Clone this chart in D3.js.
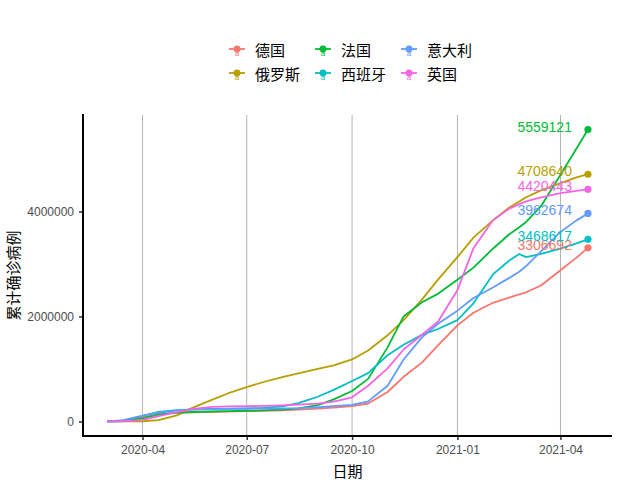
<!DOCTYPE html>
<html>
<head>
<meta charset="utf-8">
<script src="https://cdn.jsdelivr.net/npm/d3@7"></script>
<style>
  html, body { margin: 0; padding: 0; background: #fff; }
  svg { display: block; }
</style>
</head>
<body>
<svg id="chart" width="640" height="480"></svg>
<script>
// ---- data ----
const dates = ["2020-03-01","2020-03-15","2020-04-01","2020-04-15","2020-05-01","2020-05-15","2020-06-01","2020-06-15",
  "2020-07-01","2020-07-15","2020-08-01","2020-08-15","2020-09-01","2020-09-15","2020-10-01","2020-10-15",
  "2020-11-01","2020-11-15","2020-12-01","2020-12-15","2021-01-01","2021-01-15","2021-02-01","2021-02-15",
  "2021-02-24","2021-03-02","2021-03-15","2021-04-01","2021-04-15","2021-04-25"];
const countries = ["德国","俄罗斯","法国","西班牙","意大利","英国"];
const colors = ["#F8766D","#B79F00","#00BA38","#00BFC4","#619CFF","#F564E3"];
const germany = [130,5800,77000,134000,163000,174000,183000,187000,195000,200000,210000,225000,245000,265000,292000,341000,
  560000,850000,1120000,1450000,1830000,2070000,2260000,2360000,2420000,2460000,2590000,2880000,3120000,3306692];
const russia = [0,63,2800,24500,114000,262000,415000,537000,654000,746000,845000,917000,1000000,1069000,1180000,1350000,
  1640000,1930000,2320000,2700000,3130000,3500000,3830000,4070000,4190000,4270000,4400000,4540000,4650000,4708640];
const france = [130,4500,57000,135000,168000,179000,189000,194000,203000,210000,225000,250000,310000,420000,580000,810000,
  1410000,2000000,2270000,2430000,2700000,2930000,3290000,3560000,3700000,3800000,4100000,4700000,5200000,5559121];
const spain = [84,7800,104000,180000,215000,230000,240000,244000,250000,258000,288000,350000,470000,600000,770000,920000,
  1260000,1460000,1650000,1760000,1930000,2250000,2800000,3060000,3190000,3130000,3190000,3290000,3390000,3468617];
const italy = [1700,25000,110000,165000,207000,224000,233000,237000,241000,244000,248000,253000,270000,290000,314000,381000,
  680000,1180000,1600000,1860000,2110000,2350000,2550000,2730000,2850000,2960000,3240000,3610000,3830000,3962674];
const uk = [36,1400,30000,99000,178000,237000,277000,285000,290000,296000,305000,318000,340000,375000,460000,680000,
  1010000,1370000,1650000,1900000,2500000,3300000,3830000,4050000,4140000,4190000,4270000,4350000,4390000,4420443];
const seriesValues = [germany, russia, france, spain, italy, uk];
const xTicks = ["2020-04-01","2020-07-01","2020-10-01","2021-01-01","2021-04-01"];
const yTicks = [0, 2000000, 4000000];
const xTitle = "日期";
const yTitle = "累计确诊病例";

// ---- setup ----
const parse = d3.timeParse("%Y-%m-%d");
const fmtX = d3.timeFormat("%Y-%m");
const svg = d3.select("#chart");
const cjk = "'Noto Sans CJK SC', 'Noto Sans', sans-serif";
const latin = "'Liberation Sans', Arial, sans-serif";

const P = {left: 83, right: 612, top: 115, bottom: 436};
const dParsed = dates.map(parse);
const dMin = d3.min(dParsed), dMax = d3.max(dParsed);
const span = dMax - dMin;
const x = d3.scaleTime()
  .domain([new Date(+dMin - 0.05*span), new Date(+dMax + 0.05*span)])
  .range([P.left, P.right]);
const vMax = d3.max(seriesValues, s => d3.max(s));
const y = d3.scaleLinear()
  .domain([-0.05*vMax, vMax*1.05])
  .range([P.bottom, P.top]);

// gridlines (vertical only)
svg.append("g").selectAll("line").data(xTicks.map(parse)).join("line")
  .attr("x1", d => x(d)).attr("x2", d => x(d))
  .attr("y1", P.top).attr("y2", P.bottom)
  .attr("stroke", "#B3B3B3").attr("stroke-width", 1);

// axes
const xAxis = d3.axisBottom(x).tickValues(xTicks.map(parse)).tickFormat(fmtX).tickSize(4).tickPadding(5);
const gx = svg.append("g").attr("transform", `translate(0,${P.bottom})`).call(xAxis);
gx.select(".domain").remove();
gx.selectAll(".tick line").attr("stroke", "#333").attr("stroke-width", 1.5);
gx.selectAll(".tick text").attr("fill", "#4D4D4D").style("font-family", latin).style("font-size", "12px");

const yAxis = d3.axisLeft(y).tickValues(yTicks).tickFormat(d3.format("d")).tickSize(4).tickPadding(5);
const gy = svg.append("g").attr("transform", `translate(${P.left},0)`).call(yAxis);
gy.select(".domain").remove();
gy.selectAll(".tick line").attr("stroke", "#333").attr("stroke-width", 1.5);
gy.selectAll(".tick text").attr("fill", "#4D4D4D").style("font-family", latin).style("font-size", "12px");

// axis lines
svg.append("line").attr("x1", P.left).attr("x2", P.right).attr("y1", P.bottom).attr("y2", P.bottom)
  .attr("stroke", "#000").attr("stroke-width", 2);
svg.append("line").attr("x1", P.left).attr("x2", P.left).attr("y1", P.top - 1).attr("y2", P.bottom + 1)
  .attr("stroke", "#000").attr("stroke-width", 2);

// lines
const line = d3.line().x((d, i) => x(dParsed[i])).y(d => y(d));
const gl = svg.append("g");
seriesValues.forEach((s, k) => {
  gl.append("path").datum(s).attr("d", line)
    .attr("fill", "none").attr("stroke", colors[k]).attr("stroke-width", 1.8)
    .attr("stroke-linejoin", "round");
});
// end points + labels
seriesValues.forEach((s, k) => {
  const lv = s[s.length - 1], ld = dParsed[dParsed.length - 1];
  svg.append("circle").attr("cx", x(ld)).attr("cy", y(lv)).attr("r", 3.6).attr("fill", colors[k]);
  svg.append("text").attr("x", x(ld) - 16).attr("y", y(lv) - 3)
    .attr("text-anchor", "end").attr("dominant-baseline", "central")
    .attr("fill", colors[k]).style("font-family", latin).style("font-size", "14px")
    .text(lv);
});

// axis titles
svg.append("text").attr("x", (P.left + P.right) / 2).attr("y", 470)
  .attr("text-anchor", "middle").attr("dominant-baseline", "central")
  .style("font-family", cjk).style("font-size", "15px").attr("fill", "#000").text(xTitle);
svg.append("text").attr("transform", `translate(12,${(P.top + P.bottom) / 2}) rotate(-90)`)
  .attr("text-anchor", "middle").attr("dominant-baseline", "central")
  .style("font-family", cjk).style("font-size", "15px").attr("fill", "#000").text(yTitle);

// legend (2 rows, filled column-wise)
const colKeyX = [237, 323, 409];
const rowY = [49, 73];
countries.forEach((c, k) => {
  const col = Math.floor(k / 2), row = k % 2;
  const cx = colKeyX[col], cy = rowY[row];
  const g = svg.append("g");
  g.append("line").attr("x1", cx - 8).attr("x2", cx + 8).attr("y1", cy).attr("y2", cy)
    .attr("stroke", colors[k]).attr("stroke-width", 1.8);
  g.append("circle").attr("cx", cx).attr("cy", cy).attr("r", 3.4).attr("fill", colors[k]);
  g.append("text").attr("x", cx).attr("y", cy + 4).attr("text-anchor", "middle")
    .attr("dominant-baseline", "central").style("font-family", latin).style("font-size", "8px")
    .attr("fill", colors[k]).text("a");
  g.append("text").attr("x", cx + 18).attr("y", cy).attr("dominant-baseline", "central")
    .style("font-family", cjk).style("font-size", "15px").attr("fill", "#000").text(c);
});
</script>
</body>
</html>
